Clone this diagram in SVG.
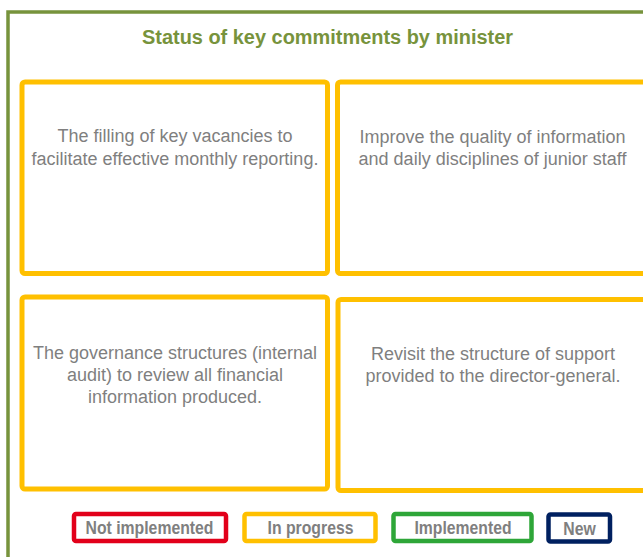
<svg xmlns="http://www.w3.org/2000/svg" width="643" height="557" viewBox="0 0 643 557">
<style>
.frame{fill:#fff;stroke:#77933C;stroke-width:3.5}
.card{fill:#fff;stroke:#FFC000;stroke-width:5}
.title{font-family:"Liberation Sans",Arial,sans-serif;font-weight:bold;font-size:20px;fill:#77933C;text-anchor:middle}
.body{font-family:"Liberation Sans",Arial,sans-serif;font-size:18px;fill:#7F7F7F;text-anchor:middle}
.leg{fill:#fff;stroke-width:4.5}
.legt{font-family:"Liberation Sans",Arial,sans-serif;font-weight:bold;font-size:18px;fill:#7F7F7F;text-anchor:middle}
</style>
<rect width="643" height="557" fill="#fff"/>
<rect class="frame" x="8" y="12" width="700" height="600"/>
<text class="title" x="327.5" y="44" textLength="371" lengthAdjust="spacingAndGlyphs">Status of key commitments by minister</text>
<g id="node1">
<rect class="card" x="22" y="82" width="305.5" height="191.5" rx="3"/>
<text class="body" x="175" y="142">The filling of key vacancies to</text>
<text class="body" x="175" y="164.5">facilitate effective monthly reporting.</text>
</g>
<g id="node2">
<rect class="card" x="337.5" y="82" width="320" height="191.5" rx="3"/>
<text class="body" x="492.5" y="142.5">Improve the quality of information</text>
<text class="body" x="492.5" y="165">and daily disciplines of junior staff</text>
</g>
<g id="node3">
<rect class="card" x="22" y="297" width="305.5" height="192" rx="3"/>
<text class="body" x="175" y="359">The governance structures (internal</text>
<text class="body" x="175" y="381">audit) to review all financial</text>
<text class="body" x="175" y="403">information produced.</text>
</g>
<g id="node4">
<rect class="card" x="338" y="299.5" width="320" height="191" rx="3"/>
<text class="body" x="493" y="359.5">Revisit the structure of support</text>
<text class="body" x="493" y="381.5">provided to the director-general.</text>
</g>
<g id="legend">
<g id="leg-not-implemented">
<rect class="leg" x="74" y="514" width="152" height="27" rx="2" stroke="#E2001A"/>
<text class="legt" x="149.5" y="534" textLength="128" lengthAdjust="spacingAndGlyphs">Not implemented</text>
</g>
<g id="leg-in-progress">
<rect class="leg" x="244.5" y="514" width="131" height="27" rx="2" stroke="#FFC000"/>
<text class="legt" x="310.5" y="534" textLength="86" lengthAdjust="spacingAndGlyphs">In progress</text>
</g>
<g id="leg-implemented">
<rect class="leg" x="393.5" y="514" width="138" height="27" rx="2" stroke="#2EA638"/>
<text class="legt" x="463" y="534" textLength="97" lengthAdjust="spacingAndGlyphs">Implemented</text>
</g>
<g id="leg-new">
<rect class="leg" x="548.5" y="514.5" width="61.5" height="27" rx="2" stroke="#002060"/>
<text class="legt" x="579.5" y="534.5" textLength="32.5" lengthAdjust="spacingAndGlyphs">New</text>
</g>
</g>
<g id="connectors"/>
</svg>
